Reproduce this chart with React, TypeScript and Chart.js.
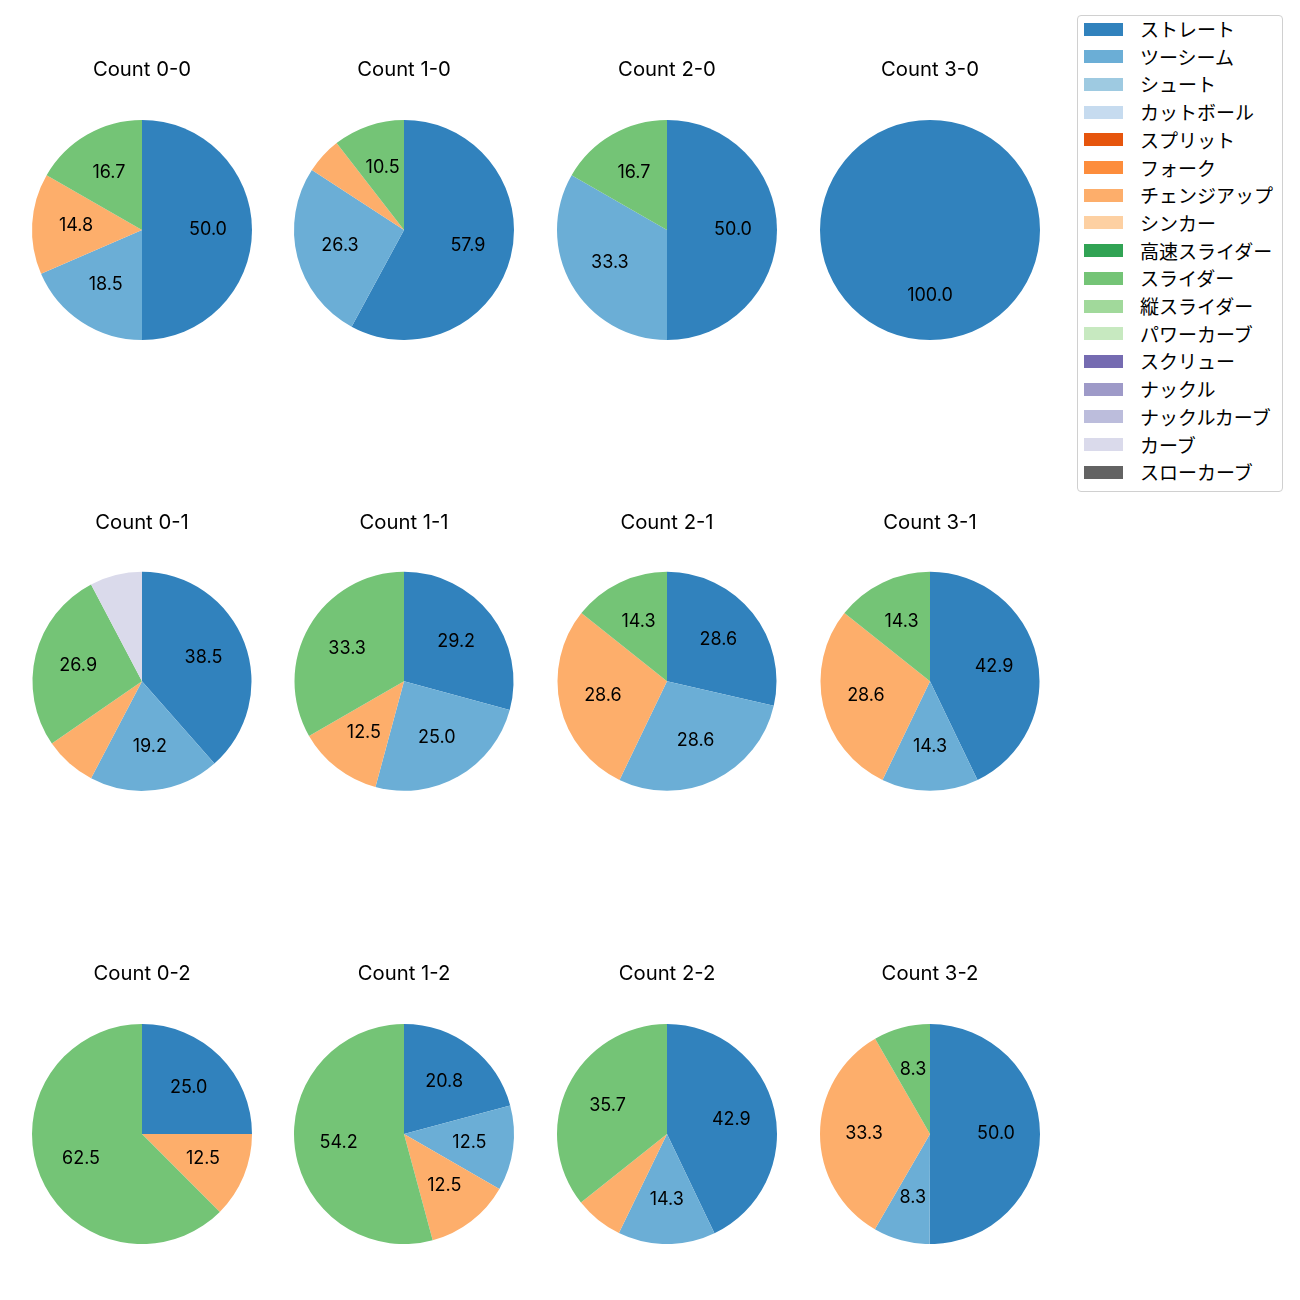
import React, { useEffect, useRef } from "react";
import { Chart, registerables } from "chart.js";

Chart.register(...registerables);

const FONT = 'Inter, "Noto Sans CJK JP", "Noto Sans", sans-serif';
const JP_FONT = '"Noto Sans CJK JP", "Noto Sans", sans-serif';

const pitchTypes = [
  "ストレート", "ツーシーム", "シュート", "カットボール", "スプリット", "フォーク",
  "チェンジアップ", "シンカー", "高速スライダー", "スライダー", "縦スライダー",
  "パワーカーブ", "スクリュー", "ナックル", "ナックルカーブ", "カーブ", "スローカーブ",
];

const pitchColors = [
  "#3182bd", "#6baed6", "#9ecae1", "#c6dbef", "#e6550d", "#fd8d3c",
  "#fdae6b", "#fdd0a2", "#31a354", "#74c476", "#a1d99b",
  "#c7e9c0", "#756bb1", "#9e9ac8", "#bcbddc", "#dadaeb", "#636363",
];

const countLabels = ["0-0", "1-0", "2-0", "3-0", "0-1", "1-1", "2-1", "3-1", "0-2", "1-2", "2-2", "3-2"];

// percentages per count (same order as countLabels)
const straight = [50.0, 57.9, 50.0, 100.0, 38.5, 29.2, 28.6, 42.9, 25.0, 20.8, 42.9, 50.0];
const twoSeam = [18.5, 26.3, 33.3, 0, 19.2, 25.0, 28.6, 14.3, 0, 12.5, 14.3, 8.3];
const changeup = [14.8, 5.3, 0, 0, 7.7, 12.5, 28.6, 28.6, 12.5, 12.5, 7.1, 33.3];
const slider = [16.7, 10.5, 16.7, 0, 26.9, 33.3, 14.3, 14.3, 62.5, 54.2, 35.7, 8.3];
const curve = [0, 0, 0, 0, 7.7, 0, 0, 0, 0, 0, 0, 0];
const none = [0, 0, 0, 0, 0, 0, 0, 0, 0, 0, 0, 0];

const seriesByType: number[][] = [
  straight, twoSeam, none, none, none, none,
  changeup, none, none, slider, none,
  none, none, none, none, curve, none,
];

const LABEL_MIN = 8;

// layout (pixels)
const colX = [141.5, 404, 667, 930];
const rowCY = [229.5, 681.5, 1134.5];
const rowTY = [69.5, 523.3, 974.3];
const rowR = [110, 109.5, 110];
const CANVAS_W = 240;
const TITLE_SIZE = 20.3;
const TITLE_LH = 24;
const LABEL_SIZE = 18;

const pctLabels = {
  id: "pctLabels",
  afterDatasetsDraw(chart: any) {
    const ctx = chart.ctx;
    const meta = chart.getDatasetMeta(0);
    const data = chart.data.datasets[0].data as number[];
    ctx.save();
    ctx.font = `${LABEL_SIZE}px ${FONT}`;
    ctx.fillStyle = "#000";
    ctx.textAlign = "center";
    ctx.textBaseline = "middle";
    meta.data.forEach((arc: any, i: number) => {
      const v = data[i];
      if (!v || v < LABEL_MIN) return;
      const p = arc.getProps(["x", "y", "startAngle", "endAngle", "outerRadius"], true);
      const mid = (p.startAngle + p.endAngle) / 2;
      const r = p.outerRadius * 0.6;
      ctx.fillText(v.toFixed(1), p.x + Math.cos(mid) * r, p.y + Math.sin(mid) * r - 0.3);
    });
    ctx.restore();
  },
};

function PieCell({ idx }: { idx: number }) {
  const ref = useRef<HTMLCanvasElement | null>(null);
  const row = Math.floor(idx / 4);
  const col = idx % 4;
  const R = rowR[row];
  const cy = rowCY[row];
  const ty = rowTY[row];
  const top = ty - TITLE_LH / 2;
  const pb = cy - R - top - TITLE_LH;
  const height = TITLE_LH + pb + 2 * R;
  const left = colX[col] - CANVAS_W / 2;

  useEffect(() => {
    if (!ref.current) return;
    const values = seriesByType.map((s) => s[idx]);
    const chart = new Chart(ref.current, {
      type: "pie",
      data: {
        labels: pitchTypes,
        datasets: [
          {
            data: values,
            backgroundColor: pitchColors,
            borderWidth: 0,
            hoverOffset: 0,
          },
        ],
      },
      options: {
        responsive: false,
        animation: false,
        events: [],
        radius: R,
        layout: { padding: 0 },
        plugins: {
          legend: { display: false },
          tooltip: { enabled: false },
          title: {
            display: true,
            text: `Count ${countLabels[idx]}`,
            color: "#000",
            font: { family: FONT, size: TITLE_SIZE, weight: "normal", lineHeight: TITLE_LH / TITLE_SIZE },
            padding: { top: 0, bottom: pb },
          },
        },
      } as any,
      plugins: [pctLabels],
    });
    return () => chart.destroy();
  }, [idx]);

  return (
    <canvas
      ref={ref}
      width={CANVAS_W}
      height={Math.round(height)}
      style={{ position: "absolute", left, top, width: CANVAS_W, height: Math.round(height) }}
    />
  );
}

function Legend() {
  const top0 = 29;
  const step = 27.7;
  return (
    <div
      style={{
        position: "absolute",
        left: 1077,
        top: 15,
        width: 206,
        height: 477,
        border: "1px solid #d0d0d0",
        borderRadius: 4,
        background: "#fff",
        boxSizing: "border-box",
      }}
    >
      {pitchTypes.map((name, i) => (
        <div key={name}>
          <div
            style={{
              position: "absolute",
              left: 1084 - 1078,
              top: top0 + i * step - 6.5 - 16,
              width: 39,
              height: 13,
              background: pitchColors[i],
            }}
          />
          <div
            style={{
              position: "absolute",
              left: 1140 - 1078,
              top: top0 + i * step - 13 - 16,
              height: 26,
              lineHeight: "26px",
              fontFamily: JP_FONT,
              fontSize: 19,
              color: "#000",
              whiteSpace: "nowrap",
            }}
          >
            {name}
          </div>
        </div>
      ))}
    </div>
  );
}

export default function App() {
  return (
    <div
      style={{
        position: "absolute",
        left: 0,
        top: 0,
        width: 1300,
        height: 1300,
        background: "#fff",
        overflow: "hidden",
      }}
    >
      {countLabels.map((_, i) => (
        <PieCell key={i} idx={i} />
      ))}
      <Legend />
    </div>
  );
}
